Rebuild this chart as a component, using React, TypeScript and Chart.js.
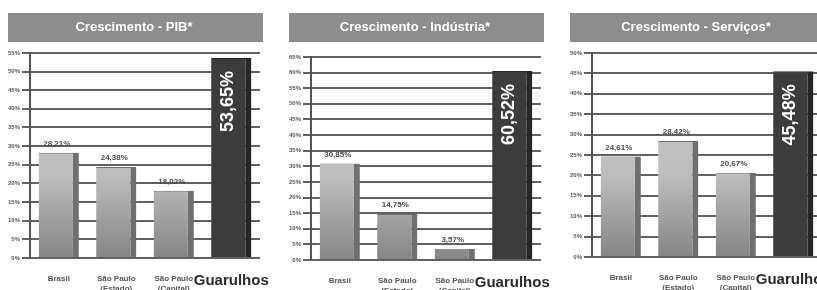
import React, { useEffect, useRef } from "react";
import { Chart, registerables } from "chart.js";

Chart.register(...registerables);

// ---- data ----
const categories: string[][] = [["Brasil"], ["São Paulo", "(Estado)"], ["São Paulo", "(Capital)"], ["Guarulhos"]];
const pibTitle = "Crescimento - PIB*";
const industriaTitle = "Crescimento - Indústria*";
const servicosTitle = "Crescimento - Serviços*";
const pibValues = [28.21, 24.38, 18.02, 53.65];
const industriaValues = [30.85, 14.75, 3.57, 60.52];
const servicosValues = [24.61, 28.42, 20.67, 45.48];
const pibMax = 55;
const industriaMax = 65;
const servicosMax = 50;
const tickStep = 5;

const FONT = "'Liberation Sans Narrow', 'Liberation Sans', Arial, sans-serif";
const CANVAS_W = 266;
const PANEL_W = 255;

const fmt = (v: number) => v.toFixed(2).replace(".", ",") + "%";

const titleBg = {
  id: "titleBg",
  beforeDraw(chart: any) {
    const t = chart.titleBlock;
    if (!t) return;
    const ctx = chart.ctx;
    ctx.save();
    ctx.fillStyle = "#8d8d8d";
    ctx.fillRect(0, t.top, PANEL_W, 29);
    ctx.restore();
  },
};

const valueLabels = {
  id: "valueLabels",
  afterDatasetsDraw(chart: any) {
    const meta = chart.getDatasetMeta(0);
    const data = chart.data.datasets[0].data as number[];
    const ctx = chart.ctx;
    meta.data.forEach((bar: any, i: number) => {
      const txt = fmt(data[i]);
      ctx.save();
      if (i === 3) {
        ctx.translate(bar.x - 3, bar.y + 13);
        ctx.rotate(-Math.PI / 2);
        ctx.font = `bold 18px ${FONT}`;
        ctx.fillStyle = "#ffffff";
        ctx.textAlign = "right";
        ctx.textBaseline = "middle";
        ctx.fillText(txt, 0, 0);
      } else {
        ctx.font = `bold 8px ${FONT}`;
        ctx.fillStyle = "#4a4a4a";
        ctx.textAlign = "center";
        ctx.textBaseline = "bottom";
        ctx.fillText(txt, bar.x - 2, bar.y - 5);
      }
      ctx.restore();
    });
  },
};

function barFill(c: any) {
  if (c.dataIndex === 3) return "#3c3c3c";
  const { ctx, chartArea } = c.chart;
  if (!chartArea) return "#aaaaaa";
  const g = ctx.createLinearGradient(0, chartArea.top, 0, chartArea.bottom);
  g.addColorStop(0, "#cacaca");
  g.addColorStop(0.6, "#bdbdbd");
  g.addColorStop(1, "#858585");
  return g;
}

function makeConfig(title: string, values: number[], max: number, topPad: number, xHeight: number): any {
  return {
    type: "bar",
    data: {
      labels: categories,
      datasets: [
        {
          data: values,
          backgroundColor: barFill,
          borderColor: (c: any) => (c.dataIndex === 3 ? "#262626" : "#6f6f6f"),
          borderWidth: { top: 1, right: 6, left: 0, bottom: 0 },
          borderSkipped: false,
          categoryPercentage: 1,
          barPercentage: 0.7,
        },
      ],
    },
    options: {
      animation: false,
      responsive: false,
      maintainAspectRatio: false,
      layout: { padding: { left: 0, right: CANVAS_W - PANEL_W + 3, top: 0, bottom: 0 } },
      plugins: {
        legend: { display: false },
        tooltip: { enabled: false },
        title: {
          display: true,
          text: title,
          color: "#ffffff",
          font: { family: FONT, size: 13, weight: "bold", lineHeight: 1.3 },
          padding: { top: 6, bottom: 17 + topPad },
        },
      },
      scales: {
        x: {
          grid: { display: false, drawTicks: false },
          border: { display: false },
          ticks: {
            autoSkip: false,
            maxRotation: 0,
            padding: 16,
            color: (c: any) => (c.index === 3 ? "#2a2a2a" : "#555555"),
            font: (c: any) =>
              c.index === 3
                ? { family: FONT, size: 15, weight: "bold", lineHeight: 0.85 }
                : { family: FONT, size: 8, weight: "bold", lineHeight: 1.25 },
          },
          afterFit: (s: any) => {
            s.height = xHeight;
            s.paddingLeft = 0;
            s.paddingRight = 0;
          },
        },
        y: {
          min: 0,
          max: max,
          ticks: {
            stepSize: tickStep,
            callback: (v: any) => v + "%",
            color: "#555555",
            font: { family: FONT, size: 6, weight: "bold" },
            padding: 2,
          },
          grid: { color: "#626262", lineWidth: 2, tickLength: 8, drawTicks: true },
          border: { display: true, color: "#555555", width: 2 },
          afterFit: (s: any) => {
            s.width = 22;
          },
        },
      },
    },
    plugins: [titleBg, valueLabels],
  };
}

function Panel(props: { left: number; title: string; values: number[]; max: number; topPad: number; xHeight: number }) {
  const ref = useRef<HTMLCanvasElement | null>(null);
  useEffect(() => {
    if (!ref.current) return;
    const chart = new Chart(ref.current, makeConfig(props.title, props.values, props.max, props.topPad, props.xHeight));
    return () => chart.destroy();
  }, []);
  return (
    <canvas
      ref={ref}
      width={CANVAS_W}
      height={277}
      style={{ position: "absolute", left: props.left, top: 13, width: CANVAS_W, height: 277 }}
    />
  );
}

export default function App() {
  return (
    <div
      style={{
        position: "absolute",
        left: 0,
        top: 0,
        width: 817,
        height: 290,
        overflow: "hidden",
        background: "#ffffff",
      }}
    >
      <Panel left={8} title={pibTitle} values={pibValues} max={pibMax} topPad={0} xHeight={32} />
      <Panel left={289} title={industriaTitle} values={industriaValues} max={industriaMax} topPad={4} xHeight={30} />
      <Panel left={570} title={servicosTitle} values={servicosValues} max={servicosMax} topPad={0} xHeight={33} />
    </div>
  );
}
